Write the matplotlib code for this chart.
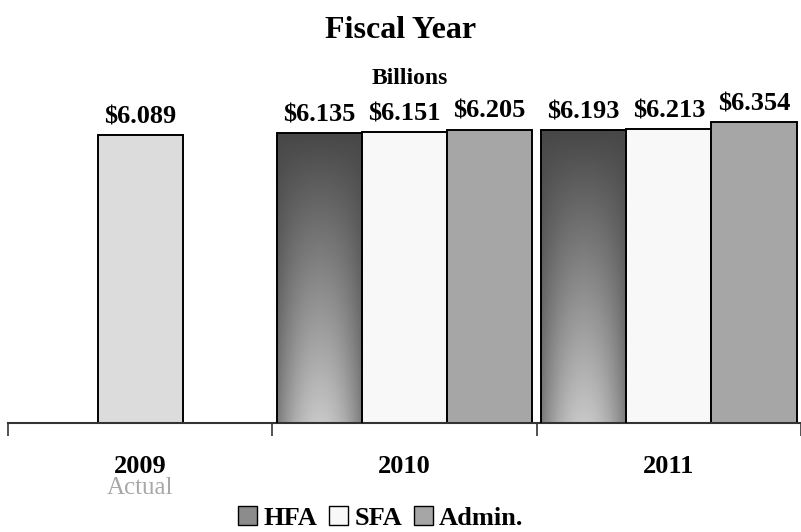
import numpy as np
import matplotlib
matplotlib.use('Agg')
import matplotlib.pyplot as plt
from matplotlib.patches import Patch

# Data (billions of dollars)
years = ['2009', '2010', '2011']
hfa = [np.nan, 6.135, 6.193]
sfa = [6.089, 6.151, 6.213]
admin = [np.nan, 6.205, 6.354]
series_names = ['HFA', 'SFA', 'Admin.']

serif = 'Liberation Serif'
plt.rcParams['font.family'] = [serif, 'DejaVu Serif']

fig = plt.figure(figsize=(8.01, 5.32), dpi=100)
ax = fig.add_axes([8 / 801, 109 / 532, 793 / 801, 333 / 532])

x = np.arange(len(years))
w = 0.322
ylo, yhi = 0.33, 7.0

hfa_bars = ax.bar(x - w, hfa, w, color='#8c8c8c', edgecolor='black', linewidth=1.4, zorder=2)
sfa_bars = ax.bar(x, sfa, w, color=['#dcdcdc', '#f8f8f8', '#f8f8f8'], edgecolor='black', linewidth=1.4, zorder=2)
adm_bars = ax.bar(x + w, admin, w, color='#a6a6a6', edgecolor='black', linewidth=1.4, zorder=2)

# gradient fill on HFA bars (dark top, lighter lower middle)
t = np.linspace(0, 1, 200)[:, None]
u = np.linspace(-1, 1, 60)[None, :]
grad = 0.28 + 0.50 * t * (1 - 0.6 * u ** 2)
for b in hfa_bars:
    if np.isnan(b.get_height()):
        continue
    x0 = b.get_x()
    im = ax.imshow(grad, cmap='gray', vmin=0, vmax=1, aspect='auto',
                   extent=(x0, x0 + b.get_width(), ylo, b.get_height()),
                   origin='upper', zorder=2.5)
    im.set_clip_path(b)
    b.set_zorder(3)
    b.set_facecolor('none')

# value labels
for bars, vals in [(hfa_bars, hfa), (sfa_bars, sfa), (adm_bars, admin)]:
    for b, v in zip(bars, vals):
        if np.isnan(v):
            continue
        ax.annotate(f'${v:.3f}', (b.get_x() + b.get_width() / 2, v),
                    xytext=(0, 5), textcoords='offset points',
                    ha='center', va='bottom', fontsize=19, fontweight='bold')

ax.set_xlim(-0.5, -0.5 + 793 / 266.7)
ax.set_ylim(ylo, yhi)
ax.set_yticks([])
for s in ['left', 'right', 'top']:
    ax.spines[s].set_visible(False)
ax.spines['bottom'].set_linewidth(1.5)
ax.spines['bottom'].set_color('#333333')

ax.set_xticks(x)
ax.set_xticklabels(years, fontsize=19, fontweight='bold')
ax.tick_params(axis='x', which='major', length=0, pad=23)
ax.set_xticks([-0.5, 0.5, 1.5, 2.5], minor=True)
ax.tick_params(axis='x', which='minor', length=9, width=1.2, color='#333333', direction='out')

ax.annotate('Actual', (0, 0), xycoords=('data', 'axes fraction'),
            xytext=(0, -47), textcoords='offset points',
            ha='center', va='center', fontsize=18, color='#a8a8a8')

fig.text(0.5, 1 - 30 / 532, 'Fiscal Year', ha='center', va='center',
         fontsize=23, fontweight='bold')
fig.text(410 / 801, 1 - 78 / 532, 'Billions', ha='center', va='center',
         fontsize=17, fontweight='bold')

handles = [Patch(facecolor='#8c8c8c', edgecolor='black', linewidth=1),
           Patch(facecolor='#f8f8f8', edgecolor='black', linewidth=1),
           Patch(facecolor='#a6a6a6', edgecolor='black', linewidth=1)]
fig.legend(handles, series_names, loc='center', bbox_to_anchor=(381 / 801, 1 - 518 / 532),
           ncol=3, frameon=False, handlelength=0.7, handleheight=0.7,
           handletextpad=0.25, columnspacing=0.45,
           prop={'family': serif, 'weight': 'bold', 'size': 19})

fig.savefig('out.png', dpi=100)
